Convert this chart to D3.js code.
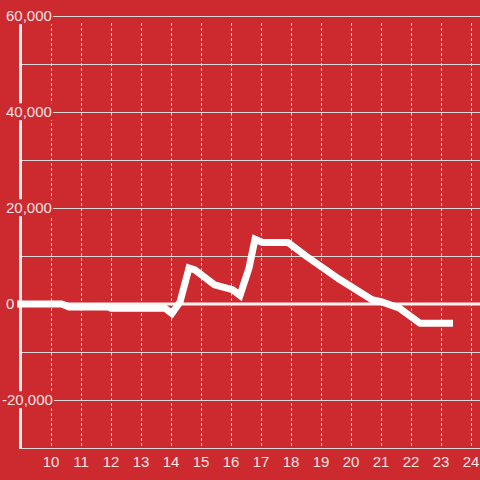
<!DOCTYPE html>
<html>
<head>
<meta charset="utf-8">
<script src="https://cdn.jsdelivr.net/npm/d3@7"></script>
<style>
  html, body { margin: 0; padding: 0; background: #cc2a2e; }
  text { font-family: "Liberation Sans", Arial, sans-serif; }
</style>
</head>
<body>
<div id="container"></div>
<script>
// hour of day -> value
const hours = [8.87, 10.35, 10.6, 11.9, 12.0, 13.8, 14.03, 14.3, 14.6, 14.8, 15.45, 16.05, 16.3, 16.6, 16.8, 17.05, 17.9, 18.5, 19.6, 20.7, 21.0, 21.6, 22.3, 23.4];
const values = [0, 0, -600, -600, -900, -900, -2000, 400, 7500, 7100, 4000, 3000, 1800, 7500, 13500, 12800, 12800, 10000, 5200, 900, 500, -800, -4000, -4000];
const xTicks = [10, 11, 12, 13, 14, 15, 16, 17, 18, 19, 20, 21, 22, 23, 24];
const yGrid = [-20000, -10000, 10000, 20000, 30000, 40000, 50000, 60000];
const yLabels = [-20000, 0, 20000, 40000, 60000];

const w = 480;
const h = 480;
const bg = '#cc2a2e';

const svg = d3.select('#container')
              .append('svg')
              .attr('width', w)
              .attr('height', h)
              .style('display', 'block');

svg.append('rect').attr('width', w).attr('height', h).attr('fill', bg);

const xScale = d3.scaleLinear().domain([8.967, 24.3]).range([20, 480]);
const yScale = d3.scaleLinear().domain([-30000, 60000]).range([448, 16]);

// vertical dashed grid
svg.append('g')
   .selectAll('line')
   .data(xTicks)
   .enter()
   .append('line')
   .attr('x1', (d) => Math.round(xScale(d)) + 0.5)
   .attr('x2', (d) => Math.round(xScale(d)) + 0.5)
   .attr('y1', 23)
   .attr('y2', 446)
   .attr('stroke', '#e6e6e6')
   .attr('stroke-width', 1)
   .attr('stroke-dasharray', '3,2');

// horizontal grid
svg.append('g')
   .selectAll('line')
   .data(yGrid)
   .enter()
   .append('line')
   .attr('x1', 20)
   .attr('x2', w)
   .attr('y1', (d) => Math.round(yScale(d)) + 0.5)
   .attr('y2', (d) => Math.round(yScale(d)) + 0.5)
   .attr('stroke', '#d9d9d9')
   .attr('stroke-width', 1);

// x axis line
svg.append('line')
   .attr('x1', 20).attr('x2', w)
   .attr('y1', 448.5).attr('y2', 448.5)
   .attr('stroke', '#d9d9d9')
   .attr('stroke-width', 1);

// zero line
svg.append('line')
   .attr('x1', 20).attr('x2', w)
   .attr('y1', yScale(0)).attr('y2', yScale(0))
   .attr('stroke', '#f7f2f2')
   .attr('stroke-width', 3);

// y axis line
svg.append('line')
   .attr('x1', 20.5).attr('x2', 20.5)
   .attr('y1', 16).attr('y2', 449)
   .attr('stroke', '#eeeeee')
   .attr('stroke-width', 3);

// data line
const line = d3.line()
               .x((d, i) => xScale(hours[i]))
               .y((d) => yScale(d));

svg.append('path')
   .datum(values)
   .attr('d', line)
   .attr('fill', 'none')
   .attr('stroke', '#ffffff')
   .attr('stroke-width', 7)
   .attr('stroke-linejoin', 'miter');

// y labels with background box
const fmt = d3.format(',');
const yl = svg.append('g')
              .selectAll('g')
              .data(yLabels)
              .enter()
              .append('g');

yl.append('text')
  .attr('x', (d) => d < 0 ? 2 : 6)
  .attr('y', (d) => yScale(d))
  .attr('dy', '0.35em')
  .attr('text-anchor', 'start')
  .style('font-size', '15px')
  .style('fill', '#f4e4e4')
  .text((d) => fmt(d).replace('−', '-'));

yl.each(function () {
  const g = d3.select(this);
  const b = g.select('text').node().getBBox();
  g.insert('rect', 'text')
   .attr('x', b.x - 1)
   .attr('y', b.y)
   .attr('width', b.width + 2)
   .attr('height', b.height)
   .attr('fill', bg);
});

// x labels
svg.append('g')
   .selectAll('text')
   .data(xTicks)
   .enter()
   .append('text')
   .attr('x', (d) => xScale(d))
   .attr('y', 467)
   .attr('text-anchor', 'middle')
   .style('font-size', '15px')
   .style('fill', '#f4e4e4')
   .text((d) => d);
</script>
</body>
</html>
